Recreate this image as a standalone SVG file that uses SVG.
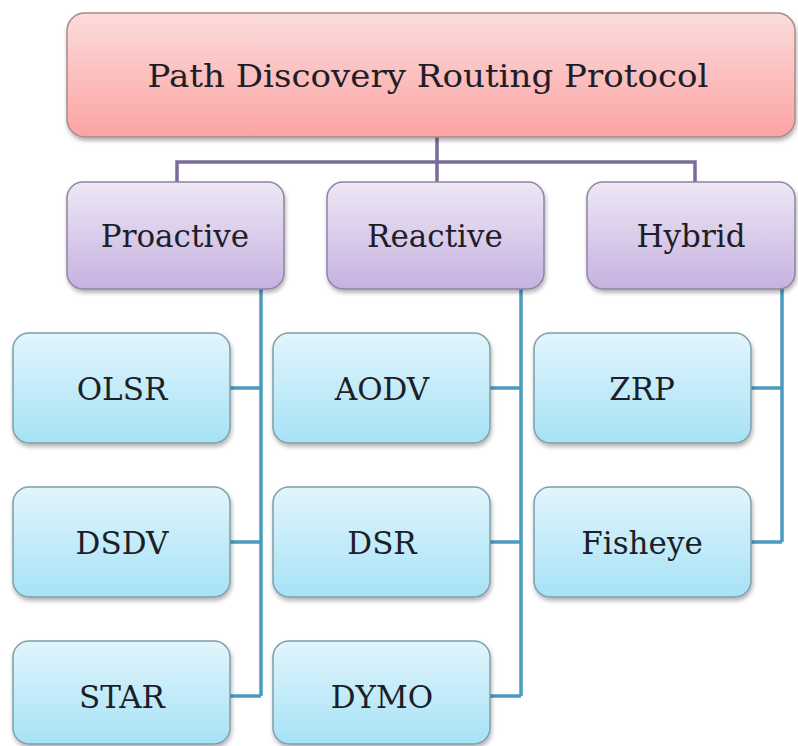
<svg xmlns="http://www.w3.org/2000/svg" width="798" height="746" viewBox="0 0 798 746">
  <defs>
    <linearGradient id="gRoot" x1="0" y1="0" x2="0" y2="1">
      <stop offset="0" stop-color="#fcdcdc"/>
      <stop offset="1" stop-color="#fca3a3"/>
    </linearGradient>
    <linearGradient id="gMid" x1="0" y1="0" x2="0" y2="1">
      <stop offset="0" stop-color="#eee7f5"/>
      <stop offset="1" stop-color="#c6b2e0"/>
    </linearGradient>
    <linearGradient id="gLeaf" x1="0" y1="0" x2="0" y2="1">
      <stop offset="0" stop-color="#e2f5fc"/>
      <stop offset="1" stop-color="#a6e2f6"/>
    </linearGradient>
    <filter id="shadow" x="-10%" y="-10%" width="120%" height="130%">
      <feDropShadow dx="1" dy="3" stdDeviation="2" flood-color="#000" flood-opacity="0.3"/>
    </filter>
    <style>
      .root { fill: url(#gRoot); stroke: #a88a8a; stroke-width: 1.5; filter: url(#shadow); }
      .mid { fill: url(#gMid); stroke: #8e84a4; stroke-width: 1.5; filter: url(#shadow); }
      .leaf { fill: url(#gLeaf); stroke: #7f9ea9; stroke-width: 1.5; filter: url(#shadow); }
      text { font-family: "DejaVu Serif", "Liberation Serif", serif; font-size: 31px; fill: #1e1e28; text-anchor: middle; }
      .title { font-size: 32px; }
      .purple { stroke: #7a6b98; stroke-width: 3.5; fill: none; }
      .teal { stroke: #4a9bbf; stroke-width: 3.5; fill: none; }
    </style>
  </defs>

  <rect width="798" height="746" fill="#ffffff"/>

  <!-- connectors -->
  <g id="connectors">
    <path class="purple" d="M437 137 V182 M177 182 V162 H695 V182"/>
    <path class="teal" d="M261 289 V696 M230 388 H261 M230 542 H261 M230 696 H261"/>
    <path class="teal" d="M521 289 V696 M490 388 H521 M490 542 H521 M490 696 H521"/>
    <path class="teal" d="M782 289 V542 M751 388 H782 M751 542 H782"/>
  </g>

  <!-- root -->
  <g id="root">
    <rect class="root" x="67" y="13" width="728" height="124" rx="18"/>
    <text class="title" x="428" y="87" textLength="561" lengthAdjust="spacingAndGlyphs">Path Discovery Routing Protocol</text>
  </g>

  <!-- categories -->
  <g id="proactive">
    <rect class="mid" x="67" y="182" width="217" height="107" rx="16"/>
    <text x="175" y="247">Proactive</text>
  </g>
  <g id="reactive">
    <rect class="mid" x="327" y="182" width="217" height="107" rx="16"/>
    <text x="435" y="247">Reactive</text>
  </g>
  <g id="hybrid">
    <rect class="mid" x="587" y="182" width="208" height="107" rx="16"/>
    <text x="691" y="247">Hybrid</text>
  </g>

  <!-- protocols -->
  <g id="olsr">
    <rect class="leaf" x="13" y="333" width="217" height="110" rx="16"/>
    <text x="122" y="400">OLSR</text>
  </g>
  <g id="dsdv">
    <rect class="leaf" x="13" y="487" width="217" height="110" rx="16"/>
    <text x="122" y="554">DSDV</text>
  </g>
  <g id="star">
    <rect class="leaf" x="13" y="641" width="217" height="103" rx="16"/>
    <text x="122" y="708">STAR</text>
  </g>
  <g id="aodv">
    <rect class="leaf" x="273" y="333" width="217" height="110" rx="16"/>
    <text x="382" y="400">AODV</text>
  </g>
  <g id="dsr">
    <rect class="leaf" x="273" y="487" width="217" height="110" rx="16"/>
    <text x="382" y="554">DSR</text>
  </g>
  <g id="dymo">
    <rect class="leaf" x="273" y="641" width="217" height="103" rx="16"/>
    <text x="382" y="708">DYMO</text>
  </g>
  <g id="zrp">
    <rect class="leaf" x="534" y="333" width="217" height="110" rx="16"/>
    <text x="642" y="400">ZRP</text>
  </g>
  <g id="fisheye">
    <rect class="leaf" x="534" y="487" width="217" height="110" rx="16"/>
    <text x="642" y="554">Fisheye</text>
  </g>
</svg>
